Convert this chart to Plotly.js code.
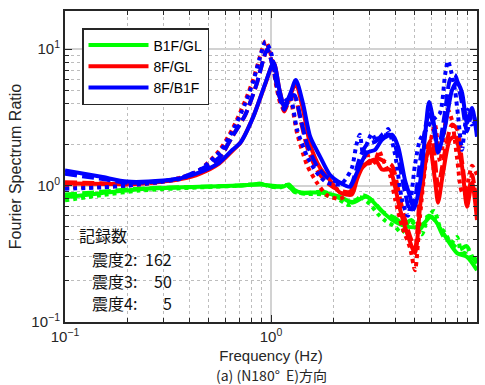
<!DOCTYPE html>
<html>
<head>
<meta charset="utf-8">
<script src="https://cdn.plot.ly/plotly-3.0.1.min.js"></script>
<style>html,body{margin:0;padding:0;background:#fff;}#chart{width:485px;height:385px;}</style>
</head>
<body>
<div id="chart"></div>
<script>
// ---- Data ----
const seriesNames = ["B1F/GL", "8F/GL", "8F/B1F"];
const countLabels = ["記録数", "震度2:", "震度3:", "震度4:"];
const countValues = ["162", "50", "5"];

// 8F/B1F (blue)
const blueSolidF = [0.1,0.15,0.2,0.3,0.37,0.45,0.56,0.65,0.71,0.82,0.94,1.03,1.10,1.16,1.24,1.32,1.43,1.55,1.73,1.93,2.16,2.42,2.61,2.92,3.2,3.46,3.87,4.14,4.47,4.73,4.95,5.29,5.59,5.85,6.25,6.47,7.0,7.56,8.0,8.46,8.94,9.46,10];
const blueSolidR = [1.29,1.16,1.07,1.09,1.14,1.25,1.47,1.83,2.06,3.19,5.65,8.0,5.0,3.8,4.7,5.95,4.0,2.28,1.63,1.2,1.05,0.98,1.24,1.74,1.83,2.17,2.36,1.93,1.1,0.83,0.67,1.05,2.28,4.1,2.56,1.74,2.7,5.0,5.75,4.8,2.88,3.7,2.28];
const blueDashF = [0.1,0.15,0.2,0.3,0.37,0.45,0.56,0.65,0.75,0.85,0.96,1.03,1.10,1.16,1.24,1.30,1.40,1.50,1.67,1.87,2.16,2.42,2.7,2.92,3.2,3.57,3.87,4.14,4.47,4.73,5.0,5.29,5.65,5.9,6.25,6.47,7.0,7.4,7.8,8.46,8.94,9.46,10];
const blueDashR = [1.22,1.12,1.05,1.08,1.15,1.3,1.6,2.3,3.3,5.5,10.0,7.0,4.5,3.6,4.5,4.6,3.0,2.0,1.4,1.15,1.05,1.0,1.6,2.0,2.1,2.4,2.3,1.6,0.9,0.65,0.8,1.5,2.8,3.5,2.3,1.8,3.5,6.0,6.5,4.0,2.5,3.5,2.6];
const blueDotF = [0.1,0.15,0.2,0.3,0.37,0.45,0.56,0.65,0.75,0.82,0.88,0.94,1.0,1.07,1.13,1.2,1.24,1.34,1.5,1.67,1.87,2.16,2.29,2.47,2.6,2.7,2.8,2.95,3.09,3.25,3.38,3.55,3.7,4.0,4.33,4.62,5.0,5.29,5.7,6.05,6.61,7.0,7.23,7.5,7.82,8.1,8.46,8.7,9.0,9.4,9.89];
const blueDotR = [0.95,0.97,1.0,1.07,1.13,1.3,1.75,2.5,4.0,5.8,8.5,11.3,9.5,5.3,4.0,4.3,4.5,2.56,1.63,1.24,1.05,1.02,1.1,1.35,2.0,2.36,1.7,2.1,2.4,2.1,2.4,2.2,2.6,1.7,0.78,0.6,1.42,2.17,2.6,3.0,3.4,6.5,8.2,6.8,5.0,3.2,1.83,2.6,3.6,2.8,3.0];

// 8F/GL (red)
const redSolidF = [0.1,0.2,0.3,0.37,0.45,0.56,0.65,0.71,0.82,0.94,1.03,1.10,1.16,1.24,1.32,1.43,1.55,1.73,1.93,2.16,2.47,2.61,2.8,3.2,3.46,3.78,4.0,4.23,4.57,5.0,5.29,5.65,5.9,6.25,6.47,6.84,7.39,7.82,8.46,8.94,9.46,10];
const redSolidR = [1.04,1.03,1.07,1.12,1.22,1.45,1.8,2.06,3.2,5.6,8.0,5.0,3.8,4.6,5.6,3.6,2.0,1.35,1.1,0.89,0.86,1.1,1.38,1.55,1.31,1.31,0.98,0.67,0.45,0.32,0.70,1.55,1.93,1.1,0.75,1.24,2.17,2.28,1.38,0.70,1.05,0.56];
const redDashF = [0.1,0.15,0.2,0.3,0.37,0.45,0.56,0.65,0.75,0.85,0.96,1.03,1.10,1.16,1.24,1.30,1.40,1.50,1.67,1.87,2.16,2.42,2.7,3.2,3.57,3.87,4.23,4.57,5.0,5.29,5.65,6.05,6.47,7.0,7.56,8.0,8.46,9.0,9.46,10];
const redDashR = [1.06,1.04,1.02,1.07,1.13,1.28,1.58,2.3,3.3,5.5,10.0,7.0,4.5,3.5,4.4,4.5,2.9,1.9,1.3,1.05,0.92,0.9,1.3,1.6,1.5,1.4,0.8,0.5,0.35,0.9,1.8,2.2,1.0,1.8,2.8,2.6,1.5,0.8,1.2,0.7];
const redDotF = [0.1,0.2,0.3,0.37,0.45,0.56,0.65,0.75,0.82,0.88,0.94,1.0,1.07,1.13,1.2,1.24,1.34,1.5,1.67,1.87,2.16,2.42,2.7,2.92,3.05,3.2,3.35,3.46,3.6,3.78,4.0,4.33,4.73,5.0,5.29,5.65,5.9,6.25,6.61,7.0,7.23,7.56,8.0,8.46,8.94,9.46,10];
const redDotR = [0.97,1.0,1.07,1.15,1.3,1.8,2.6,4.2,6.0,8.6,11.5,9.0,5.0,3.8,4.0,4.2,2.4,1.4,1.05,0.85,0.8,0.9,1.3,1.75,1.4,1.5,1.8,1.6,1.4,1.2,0.8,0.5,0.35,0.24,0.6,1.5,2.0,2.8,1.5,2.8,3.6,3.0,1.6,0.9,1.0,1.4,1.2];

// B1F/GL (green)
const greenSolidF = [0.1,0.15,0.23,0.45,0.7,0.89,1.0,1.07,1.16,1.22,1.3,1.4,1.73,2.16,2.47,2.92,3.38,3.87,4.57,5.29,6.0,6.84,8.0,8.94,10];
const greenSolidR = [0.82,0.88,0.94,0.98,1.0,1.02,1.0,0.99,0.99,1.02,0.93,0.89,0.89,0.83,0.75,0.83,0.67,0.56,0.50,0.50,0.59,0.45,0.32,0.30,0.24];
const greenDashF = [0.1,0.15,0.23,0.45,0.7,0.89,1.0,1.1,1.2,1.3,1.45,1.8,2.1,2.5,2.8,3.1,3.5,4.0,4.4,4.8,5.3,5.8,6.3,6.9,7.5,8.2,8.9,9.5,10];
const greenDashR = [0.86,0.9,0.95,0.98,1.0,1.03,0.99,0.98,1.01,0.9,0.88,0.9,0.82,0.76,0.85,0.78,0.64,0.58,0.52,0.56,0.48,0.6,0.55,0.42,0.38,0.34,0.36,0.3,0.27];
const greenDotF = [0.1,0.15,0.23,0.45,0.7,0.89,1.0,1.1,1.2,1.3,1.5,1.8,2.1,2.4,2.7,3.0,3.3,3.6,4.0,4.3,4.7,5.0,5.4,5.8,6.2,6.6,7.0,7.5,8.0,8.5,9.0,9.5,10];
const greenDotR = [0.78,0.85,0.92,0.97,1.0,1.03,0.98,0.97,1.0,0.9,0.87,0.86,0.8,0.72,0.82,0.74,0.62,0.55,0.5,0.45,0.55,0.52,0.44,0.6,0.65,0.5,0.45,0.38,0.42,0.3,0.35,0.28,0.3];

// ---- Traces ----
const GREEN = "#00ff00", RED = "#ff0000", BLUE = "#0000ff";
const DASH = "12px,5px";
function tr(x, y, color, dash, name, show) {
  return {
    x: x, y: y, type: "scatter", mode: "lines", name: name, showlegend: show,
    line: {color: color, width: 4, dash: dash, shape: "spline", smoothing: 0.7},
    hoverinfo: "skip"
  };
}
const data = [
  tr(greenDotF, greenDotR, GREEN, "dot", seriesNames[0], false),
  tr(greenDashF, greenDashR, GREEN, DASH, seriesNames[0], false),
  tr(greenSolidF, greenSolidR, GREEN, "solid", seriesNames[0], true),
  tr(redDotF, redDotR, RED, "dot", seriesNames[1], false),
  tr(redDashF, redDashR, RED, DASH, seriesNames[1], false),
  tr(redSolidF, redSolidR, RED, "solid", seriesNames[1], true),
  tr(blueDotF, blueDotR, BLUE, "dot", seriesNames[2], false),
  tr(blueDashF, blueDashR, BLUE, DASH, seriesNames[2], false),
  tr(blueSolidF, blueSolidR, BLUE, "solid", seriesNames[2], true)
];

const minorX = [0.2,0.3,0.4,0.5,0.6,0.7,0.8,0.9,2,3,4,5,6,7,8,9];
const minorY = [0.2,0.3,0.4,0.5,0.6,0.7,0.8,0.9,2,3,4,5,6,7,8,9,20];
const FONT = "Liberation Sans, Arial, sans-serif";
const JFONT = "Noto Sans CJK JP, sans-serif";
const TXT = "#262626";

function axisBase() {
  return {
    type: "log",
    tickmode: "array",
    tickvals: [0.1, 1, 10],
    ticktext: ["10<sup>−1</sup>", "10<sup>0</sup>", "10<sup>1</sup>"],
    ticks: "inside", ticklen: 7, tickwidth: 1, tickcolor: TXT,
    showline: true, linewidth: 2, linecolor: TXT, mirror: "ticks",
    showgrid: true, gridcolor: "#d2d2d2", gridwidth: 2,
    zeroline: false,
    tickfont: {family: FONT, size: 15, color: TXT},
    minor: {ticks: "inside", ticklen: 4, tickcolor: TXT, showgrid: true,
            gridcolor: "#bdbdbd", griddash: "dot", gridwidth: 1}
  };
}
const xaxis = Object.assign(axisBase(), {
  range: [-1, 1],
  title: {text: "Frequency (Hz)", font: {family: FONT, size: 15, color: TXT}, standoff: 6}
});
xaxis.minor.tickmode = "array"; xaxis.minor.tickvals = minorX;
const yaxis = Object.assign(axisBase(), {
  range: [-1, 1.28],
  title: {text: "Fourier Spectrum Ratio", font: {family: FONT, size: 16, color: TXT}, standoff: 6}
});
yaxis.minor.tickmode = "array"; yaxis.minor.tickvals = minorY;

// plot area: x 65..477, y 11..322 px
function py(p) { return (322 - p) / 311; }
function px(p) { return (p - 65) / 412; }
const annotations = [
  {text: countLabels[0], x: px(77), y: py(235), xanchor: "left"},
  {text: countLabels[1], x: px(90), y: py(259), xanchor: "left"},
  {text: countLabels[2], x: px(90), y: py(281), xanchor: "left"},
  {text: countLabels[3], x: px(90), y: py(303), xanchor: "left"},
  {text: countValues[0], x: px(174), y: py(259), xanchor: "right"},
  {text: countValues[1], x: px(174), y: py(281), xanchor: "right"},
  {text: countValues[2], x: px(174), y: py(303), xanchor: "right"}
].map(a => Object.assign({xref: "paper", yref: "paper", yanchor: "middle", showarrow: false,
  font: {family: JFONT, size: 16, color: "#111"}}, a));
annotations.push({text: "(a) (N180°  E)方向", xref: "paper", yref: "paper",
  x: 0.5, y: py(375), xanchor: "center", yanchor: "middle", showarrow: false,
  font: {family: JFONT, size: 14, color: TXT}});

const layout = {
  width: 485, height: 385,
  margin: {l: 65, r: 8, t: 11, b: 63, pad: 0},
  paper_bgcolor: "#fff", plot_bgcolor: "#fff",
  xaxis: xaxis, yaxis: yaxis,
  showlegend: true,
  legend: {x: px(82), y: 1 - (28 - 11) / 311, xanchor: "left", yanchor: "top",
    bgcolor: "#fff", bordercolor: TXT, borderwidth: 1.5,
    font: {family: FONT, size: 14, color: "#000"}, itemwidth: 60, tracegroupgap: 0},
  annotations: annotations
};

Plotly.newPlot("chart", data, layout, {staticPlot: true, displayModeBar: false});
</script>
</body>
</html>
